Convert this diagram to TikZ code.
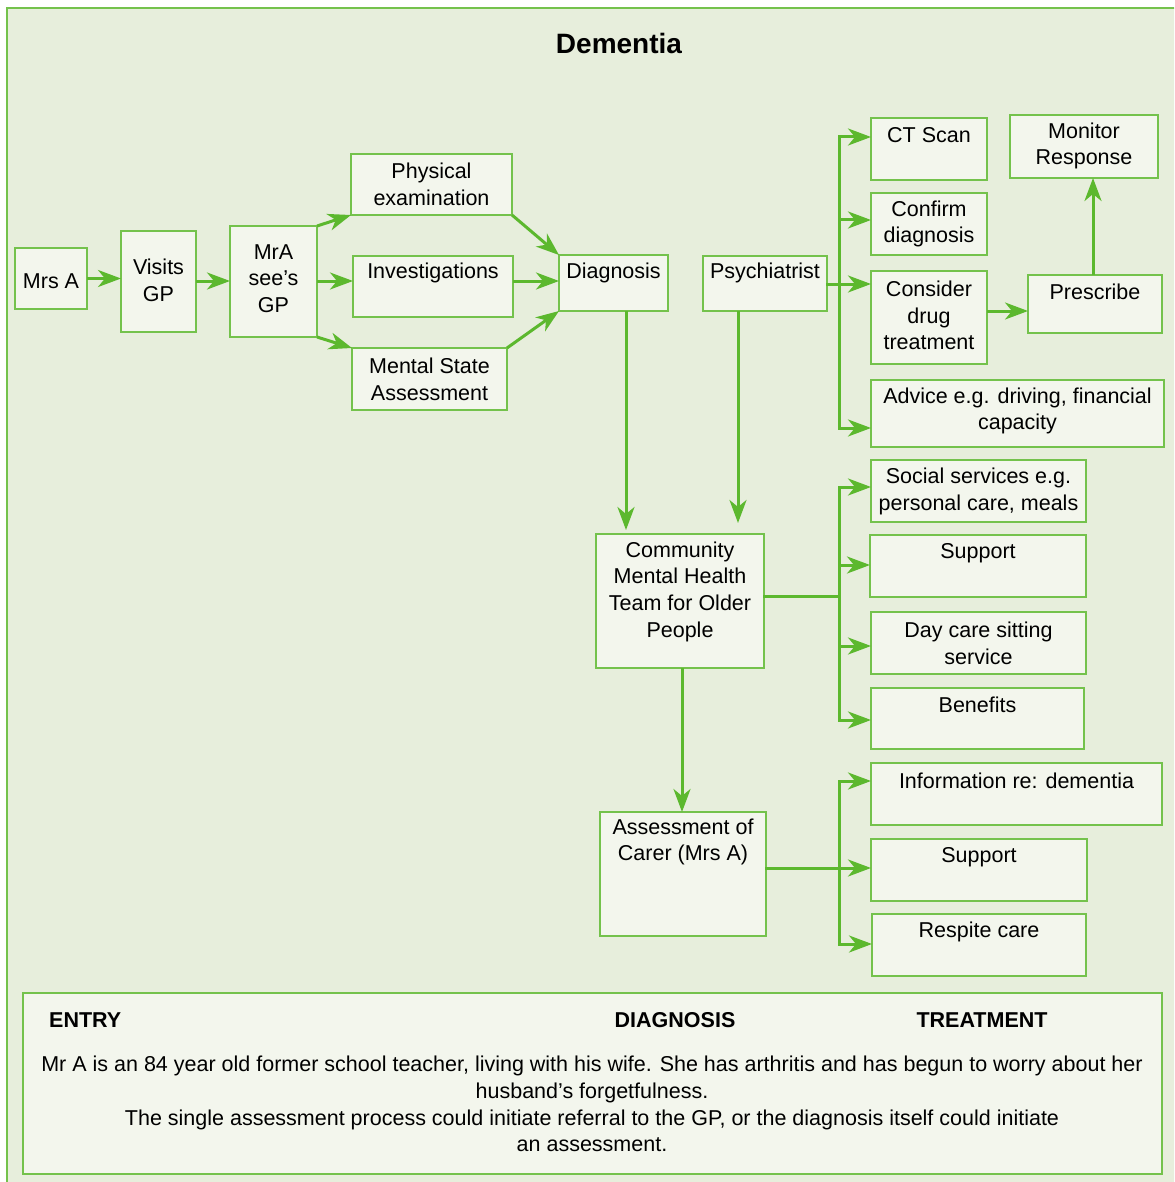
\documentclass[tikz,border=0pt]{standalone}
\usepackage{fontspec}
\setmainfont{Liberation Sans}
\usetikzlibrary{arrows.meta}
\definecolor{gr}{HTML}{5CB82E}
\definecolor{grb}{HTML}{74C24C}
\definecolor{bgc}{HTML}{E7EEDC}
\definecolor{boxc}{HTML}{F3F6ED}
\newcommand\bx[7]{%
  \node[boxst, minimum width={#4-#2}, minimum height={#5-#3}, anchor=north west] (#1) at (#2,#3) {};
  \node[txt] (#1t) at ({(#2+#4)/2},{#6+2}) {#7};}
\begin{document}
\begin{tikzpicture}[x=1pt,y=-1pt,
  boxst/.style={draw=grb, line width=2pt, fill=boxc, inner sep=0pt, outer sep=0pt},
  txt/.style={align=center, font=\fontsize{21.5}{26.7}\selectfont, inner sep=0pt, text=black},
  ln/.style={draw=gr, line width=3pt, line cap=rect},
  arr/.style={draw=gr, line width=3pt, -{Stealth[length=23pt 0,width=17pt 0,inset=7pt 0]}}]
\clip (0,0) rectangle (1174,1182);
\fill[white] (0,0) rectangle (1174,1182);
\draw[draw=grb, line width=2.5pt, fill=bgc] (7,8) rectangle (1190,1195);
\node[font=\fontsize{28}{32}\selectfont\bfseries] (title) at (619,43) {Dementia};
% boxes
\bx{mrsa}{15}{248}{87}{309}{279}{Mrs A}
\bx{visits}{121}{231}{196}{332}{278.5}{Visits\\GP}
\bx{mra}{230}{226}{317}{337}{276.5}{MrA\\see’s\\GP}
\bx{phys}{351}{154}{512}{215}{182.5}{Physical\\examination}
\bx{inv}{353}{256}{513}{317}{271}{Investigations}
\bx{msa}{352}{348}{507}{410}{377.5}{Mental State\\Assessment}
\bx{diag}{559}{255}{668}{311}{271}{Diagnosis}
\bx{psy}{703}{256}{827}{311}{271}{Psychiatrist}
\bx{ct}{871}{118}{987}{180}{133}{CT Scan}
\bx{conf}{871}{193}{987}{255}{222}{Confirm\\diagnosis}
\bx{cons}{871}{271}{987}{364}{313.5}{Consider\\drug\\treatment}
\bx{mon}{1010}{115}{1158}{178}{144}{Monitor\\Response}
\bx{presc}{1028}{275}{1162}{333}{290}{Prescribe}
\bx{adv}{871}{380}{1164}{447}{409}{Advice e.g. driving, financial\\capacity}
\bx{soc}{871}{460}{1086}{522}{489.5}{Social services e.g.\\personal care, meals}
\bx{sup}{870}{535}{1086}{597}{551}{Support}
\bx{day}{871}{612}{1086}{674}{641}{Day care sitting\\service}
\bx{ben}{871}{688}{1084}{749}{703}{Benefits}
\bx{cmht}{596}{534}{764}{668}{589.5}{Community\\Mental Health\\Team for Older\\People}
\bx{asm}{600}{812}{766}{936}{840}{Assessment of\\Carer (Mrs A)}
\bx{info}{871}{763}{1162}{825}{779}{Information re: dementia}
\bx{supb}{871}{839}{1087}{901}{855}{Support}
\bx{resp}{872}{914}{1086}{976}{930}{Respite care}
% note box
\node[boxst, minimum width=1139, minimum height=181, anchor=north west] (note) at (23,993) {};
\node[txt, font=\fontsize{21.5}{26.7}\selectfont\bfseries, anchor=west] (entry) at (49,1020) {ENTRY};
\node[txt, font=\fontsize{21.5}{26.7}\selectfont\bfseries] (diagh) at (675,1020) {DIAGNOSIS};
\node[txt, font=\fontsize{21.5}{26.7}\selectfont\bfseries] (treat) at (982,1020) {TREATMENT};
\node[txt] (para) at (592,1104) {Mr A is an 84 year old former school teacher, living with his wife. She has arthritis and has begun to worry about her\\husband’s forgetfulness.\\The single assessment process could initiate referral to the GP, or the diagnosis itself could initiate\\an assessment.};
% connectors: entry
\draw[arr] (mrsa.east) -- (visits.west |- mrsa.east);
\draw[arr] (visits.east |- 0,281) -- (mra.west |- 0,281);
\draw[arr] (mra.north east) -- (phys.south west);
\draw[arr] (mra.east |- 0,281) -- (inv.west |- 0,281);
\draw[arr] (mra.south east) -- (msa.north west);
\draw[arr] (phys.south east) -- (diag.north west);
\draw[arr] (inv.east |- 0,281) -- (diag.west |- 0,281);
\draw[arr] (msa.north east) -- (diag.south west);
\draw[arr, shorten >=4pt] (diag.south -| 626,0) -- (cmht.north -| 626,0);
\draw[arr, shorten >=11pt] (psy.south -| 738,0) -- (cmht.north -| 738,0);
% psychiatrist bus
\coordinate (pbus) at (839,284);
\draw[ln] (psy.east |- pbus) -- (pbus);
\draw[ln] (pbus |- 0,137) -- (pbus |- 0,428);
\draw[arr] (pbus |- 0,137) -- (ct.west |- 0,137);
\draw[arr] (pbus |- 0,220) -- (conf.west |- 0,220);
\draw[arr] (pbus) -- (cons.west |- pbus);
\draw[arr] (pbus |- 0,428) -- (adv.west |- 0,428);
\draw[arr] (cons.east |- 0,311) -- (presc.west |- 0,311);
\draw[arr] (presc.north -| 1093,0) -- (mon.south -| 1093,0);
% CMHT bus
\coordinate (cbus) at (839,596);
\draw[ln] (cmht.east |- cbus) -- (cbus);
\draw[ln] (cbus |- 0,487) -- (cbus |- 0,720);
\draw[arr] (cbus |- 0,487) -- (soc.west |- 0,487);
\draw[arr] (cbus |- 0,565) -- (sup.west |- 0,565);
\draw[arr] (cbus |- 0,646) -- (day.west |- 0,646);
\draw[arr] (cbus |- 0,720) -- (ben.west |- 0,720);
\draw[arr] (cmht.south -| 682,0) -- (asm.north -| 682,0);
% assessment bus
\coordinate (abus) at (839,868);
\draw[ln] (asm.east |- abus) -- (abus);
\draw[ln] (abus |- 0,781) -- (abus |- 0,944);
\draw[arr] (abus |- 0,781) -- (info.west |- 0,781);
\draw[arr] (abus) -- (supb.west |- abus);
\draw[arr] (abus |- 0,944) -- (resp.west |- 0,944);
\end{tikzpicture}
\end{document}
